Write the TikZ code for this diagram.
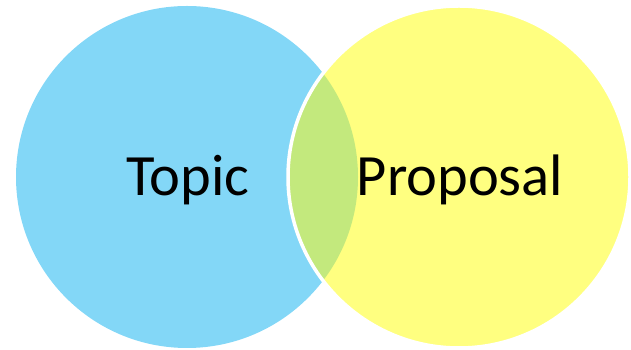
\documentclass[tikz,border=0pt]{standalone}
\usepackage{fontspec}
\setmainfont{Carlito}
\definecolor{topicblue}{RGB}{131,215,247}
\definecolor{propyellow}{RGB}{255,255,128}
\definecolor{overlapgreen}{RGB}{195,233,125}
\begin{document}
\begin{tikzpicture}[x=1pt,y=1pt,
    lbl/.style={font=\fontsize{58.5}{62}\selectfont, inner sep=0pt, anchor=base}]
  \useasboundingbox (0,0) rectangle (631,350);
  \coordinate (TopicC) at (187,173);
  \coordinate (ProposalC) at (459,173);
  \fill[topicblue] (TopicC) circle (171);
  \fill[propyellow] (ProposalC) circle (171);
  \begin{scope}
    \clip (TopicC) circle (171);
    \fill[overlapgreen] (ProposalC) circle (171);
  \end{scope}
  \draw[white, line width=3.5pt] (ProposalC) circle (171);
  \node[lbl] (Topic) at (188,154) {Topic};
  \node[lbl] (Proposal) at (460,154) {Proposal};
\end{tikzpicture}
\end{document}
